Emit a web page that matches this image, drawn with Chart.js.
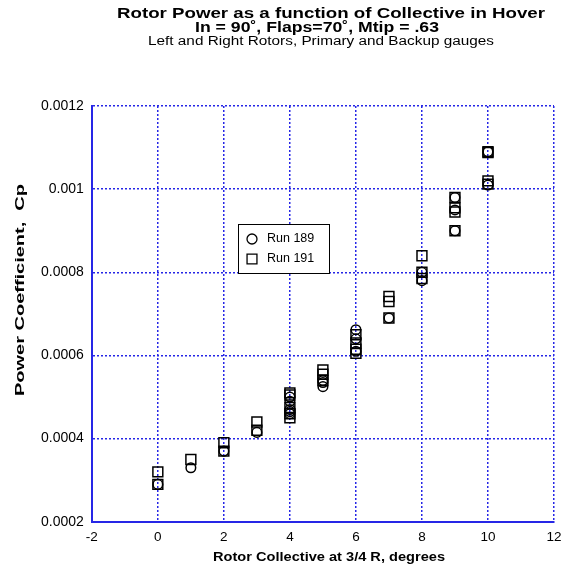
<!DOCTYPE html>
<html>
<head>
<meta charset="utf-8">
<script src="https://cdn.jsdelivr.net/npm/chart.js@4/dist/chart.umd.min.js"></script>
<style>
  html, body { margin: 0; padding: 0; background: #fff; }
  #wrap { width: 565px; height: 574px; }
</style>
</head>
<body>
<div id="wrap"><canvas id="cpChart" width="565" height="574"></canvas></div>
<script>
// collective pitch (deg) and power coefficient, per run
const run189X = [0, 1, 2, 3, 4, 4, 4, 4, 4, 5, 5, 5, 6, 6, 6, 7, 8, 8, 9, 9, 9, 10, 10];
const run189Cp = [0.00029, 0.00033, 0.00037, 0.000415, 0.00046, 0.000465, 0.00047, 0.00049, 0.0005,
  0.000525, 0.000535, 0.00054, 0.000662, 0.00064, 0.00061, 0.00069, 0.00078, 0.0008,
  0.0009, 0.00095, 0.00098, 0.00101, 0.00109];

const run191X = [0, 0, 1, 2, 2, 3, 3, 4, 4, 4, 4, 4, 5, 5, 5, 6, 6, 6, 6, 7, 7, 7, 8, 8, 8, 9, 9, 9, 9, 10, 10, 10, 10];
const run191Cp = [0.00032, 0.00029, 0.00035, 0.00039, 0.00037, 0.00044, 0.00042,
  0.00051, 0.000505, 0.000475, 0.00046, 0.00045, 0.000565, 0.000555, 0.00054,
  0.00065, 0.00063, 0.000615, 0.000605, 0.000742, 0.00073, 0.00069,
  0.00084, 0.0008, 0.000785, 0.00098, 0.000955, 0.000945, 0.0009,
  0.00109, 0.001088, 0.00102, 0.001012];

const xTicks = [-2, 0, 2, 4, 6, 8, 10, 12];
const yTicks = [0.0002, 0.0004, 0.0006, 0.0008, 0.001, 0.0012];

const titleLines = ["Rotor Power as a function of Collective in Hover", "In = 90˚, Flaps=70˚, Mtip = .63"];
const subTitle = "Left and Right Rotors, Primary and Backup gauges";
const xTitle = "Rotor Collective at 3/4 R, degrees";
const yTitle = "Power Coefficient,  Cp";

const FONT = "'Liberation Sans', Arial, sans-serif";
const GRID_BLUE = "#2626e6";

function toPoints(xs, ys) {
  return xs.map((x, i) => ({ x: x, y: ys[i] }));
}

// text squeezed/stretched along its baseline to a given width
function wideText(ctx, text, cx, cy, width, font, angle) {
  ctx.save();
  ctx.font = font;
  ctx.fillStyle = "#000";
  ctx.textAlign = "center";
  ctx.textBaseline = "middle";
  const sx = width / ctx.measureText(text).width;
  ctx.translate(cx, cy);
  if (angle) ctx.rotate(angle);
  ctx.scale(sx, 1);
  ctx.fillText(text, 0, 0);
  ctx.restore();
}

const headings = {
  id: "headings",
  afterDraw(chart) {
    const ctx = chart.ctx;
    wideText(ctx, titleLines[0], 331, 14, 428, "bold 14px " + FONT);
    wideText(ctx, titleLines[1], 317, 28, 244, "bold 14px " + FONT);
    wideText(ctx, subTitle, 321, 42, 346, "12px " + FONT);
    wideText(ctx, xTitle, 329, 557, 232, "bold 13px " + FONT);
    wideText(ctx, yTitle, 20, 290, 212, "bold 13px " + FONT, -Math.PI / 2);
  }
};

// legend box sitting inside the plot
const insideLegend = {
  id: "insideLegend",
  afterDraw(chart) {
    const ctx = chart.ctx;
    const left = 238, top = 224, w = 91, h = 49;
    ctx.save();
    ctx.fillStyle = "#fff";
    ctx.fillRect(left, top, w, h);
    ctx.strokeStyle = "#000";
    ctx.lineWidth = 1;
    ctx.strokeRect(left + 0.5, top + 0.5, w, h);
    ctx.textBaseline = "middle";
    chart.data.datasets.forEach((ds, i) => {
      const cy = top + 15 + i * 20;
      ctx.fillStyle = "#fff";
      ctx.strokeStyle = "#000";
      ctx.lineWidth = 1.3;
      Chart.helpers.drawPoint(ctx, {
        pointStyle: ds.pointStyle,
        radius: ds.pointStyle === "rect" ? 7 : 5,
        borderWidth: 1.3
      }, left + 14, cy);
      ctx.fillStyle = "#000";
      ctx.font = "12.5px " + FONT;
      ctx.fillText(ds.label, left + 29, cy);
    });
    ctx.restore();
  }
};

new Chart(document.getElementById("cpChart"), {
  type: "scatter",
  data: {
    datasets: [
      {
        label: "Run 189",
        data: toPoints(run189X, run189Cp),
        pointStyle: "circle",
        pointRadius: 4.8,
        pointBorderWidth: 1.5,
        borderColor: "#000",
        backgroundColor: "rgba(255,255,255,0)"
      },
      {
        label: "Run 191",
        data: toPoints(run191X, run191Cp),
        pointStyle: "rect",
        pointRadius: 7,
        pointBorderWidth: 1.5,
        borderColor: "#000",
        backgroundColor: "rgba(255,255,255,0)"
      }
    ]
  },
  options: {
    responsive: false,
    animation: false,
    layout: { padding: { left: 33, right: 11, top: 106, bottom: 22 } },
    plugins: {
      legend: { display: false },
      tooltip: { enabled: false },
      title: { display: false }
    },
    scales: {
      x: {
        type: "linear",
        min: -2,
        max: 12,
        afterBuildTicks: (axis) => { axis.ticks = xTicks.map(v => ({ value: v })); },
        // let the "12" label hang past the plot edge instead of shrinking it
        afterFit: (axis) => { axis.paddingRight = 0; },
        ticks: { color: "#000", font: { family: FONT, size: 13.5 }, padding: 7 },
        grid: { color: GRID_BLUE, lineWidth: 1.5, drawTicks: false },
        border: { color: GRID_BLUE, width: 2, dash: [2, 2] }
      },
      y: {
        type: "linear",
        min: 0.0002,
        max: 0.0012,
        afterBuildTicks: (axis) => { axis.ticks = yTicks.map(v => ({ value: v })); },
        ticks: {
          color: "#000",
          font: { family: FONT, size: 14 },
          padding: 8,
          callback: (v) => String(parseFloat(v.toFixed(4)))
        },
        grid: { color: GRID_BLUE, lineWidth: 1.5, drawTicks: false },
        border: { color: GRID_BLUE, width: 2, dash: [2, 2] }
      }
    }
  },
  plugins: [headings, insideLegend]
});
</script>
</body>
</html>
